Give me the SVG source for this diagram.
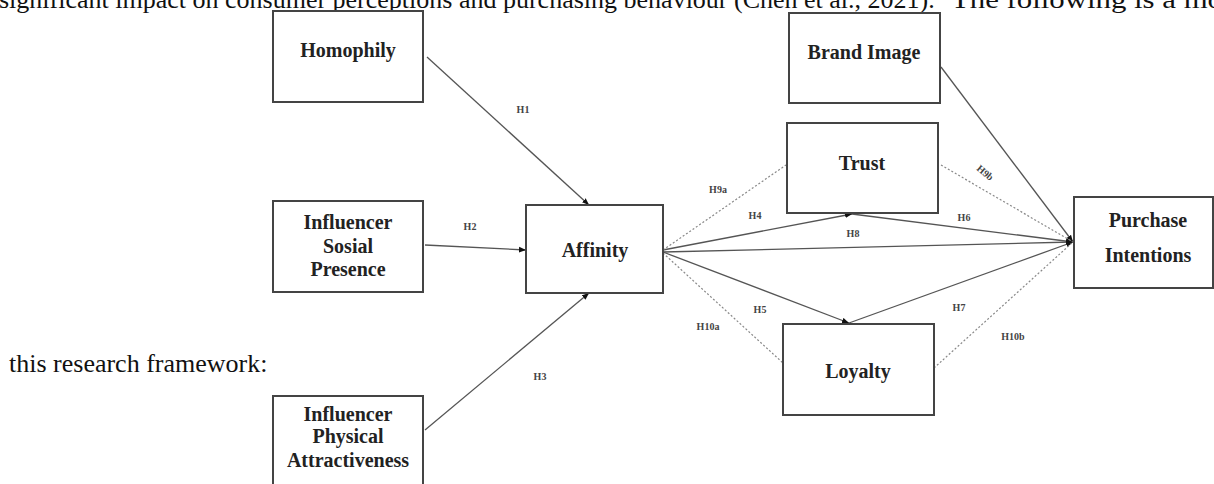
<svg xmlns="http://www.w3.org/2000/svg" width="1214" height="484" viewBox="0 0 1214 484">
<style>
.box{fill:#fff;stroke:#444;stroke-width:2}
.nt{font-family:"Liberation Serif","Times New Roman",serif;font-weight:bold;font-size:20px;fill:#222;text-anchor:middle}
.lb{font-family:"Liberation Serif","Times New Roman",serif;font-weight:bold;font-size:10px;fill:#444;text-anchor:middle}
.body{font-family:"Liberation Serif","Times New Roman",serif;font-size:26px;fill:#111}
.ln{stroke:#555;stroke-width:1.3;fill:none}
.dt{stroke:#888;stroke-width:1.2;stroke-dasharray:2,2;fill:none}
</style>
<defs>
<marker id="ah" viewBox="0 0 10 10" refX="10" refY="5" markerWidth="7" markerHeight="7" orient="auto" markerUnits="userSpaceOnUse">
<path d="M0,1 L10,5 L0,9 z" fill="#111"/>
</marker>
</defs>
<rect width="1214" height="484" fill="#fff"/>
<text class="body" y="8"><tspan x="-1">significant impact on consumer perceptions and purchasing behaviour (Chen et al., 2021).</tspan><tspan x="951" textLength="272" lengthAdjust="spacingAndGlyphs">The following is a mo</tspan></text>
<text class="body" x="9" y="372">this research framework:</text>

<g id="connectors">
<line class="ln" x1="427" y1="57" x2="589" y2="205" marker-end="url(#ah)"/>
<line class="ln" x1="425" y1="245" x2="526" y2="250" marker-end="url(#ah)"/>
<line class="ln" x1="425" y1="430" x2="589" y2="293" marker-end="url(#ah)"/>
<line class="ln" x1="663" y1="250" x2="852" y2="214" marker-end="url(#ah)"/>
<line class="ln" x1="852" y1="214" x2="1073" y2="242" marker-end="url(#ah)"/>
<line class="ln" x1="663" y1="252" x2="1073" y2="242" marker-end="url(#ah)"/>
<line class="ln" x1="663" y1="252" x2="849" y2="323" marker-end="url(#ah)"/>
<line class="ln" x1="849" y1="323" x2="1073" y2="242" marker-end="url(#ah)"/>
<line class="ln" x1="941" y1="67" x2="1073" y2="242" marker-end="url(#ah)"/>
<line class="dt" x1="663" y1="250" x2="786" y2="165"/>
<line class="dt" x1="941" y1="165" x2="1073" y2="242"/>
<line class="dt" x1="663" y1="253" x2="783" y2="363"/>
<line class="dt" x1="934" y1="368" x2="1073" y2="242"/>
<text class="lb" x="523" y="113">H1</text>
<text class="lb" x="470" y="230">H2</text>
<text class="lb" x="540" y="380">H3</text>
<text class="lb" x="718" y="193">H9a</text>
<text class="lb" x="755" y="219">H4</text>
<text class="lb" x="853" y="237">H8</text>
<text class="lb" x="964" y="221">H6</text>
<text class="lb" x="985" y="176" transform="rotate(40 985 173)">H9b</text>
<text class="lb" x="760" y="313">H5</text>
<text class="lb" x="708" y="330">H10a</text>
<text class="lb" x="959" y="311">H7</text>
<text class="lb" x="1013" y="340">H10b</text>
</g>

<g id="homophily">
<rect class="box" x="273" y="11" width="150" height="91"/>
<text class="nt" x="348" y="57">Homophily</text>
</g>
<g id="social-presence">
<rect class="box" x="273" y="201" width="150" height="91"/>
<text class="nt" x="348" y="229">Influencer</text>
<text class="nt" x="348" y="253">Sosial</text>
<text class="nt" x="348" y="276">Presence</text>
</g>
<g id="physical-attractiveness">
<rect class="box" x="273" y="396" width="150" height="100"/>
<text class="nt" x="348" y="421">Influencer</text>
<text class="nt" x="348" y="443">Physical</text>
<text class="nt" x="348" y="467">Attractiveness</text>
</g>
<g id="affinity">
<rect class="box" x="526" y="205" width="137" height="88"/>
<text class="nt" x="595" y="257">Affinity</text>
</g>
<g id="brand-image">
<rect class="box" x="789" y="13" width="151" height="90"/>
<text class="nt" x="864" y="59">Brand Image</text>
</g>
<g id="trust">
<rect class="box" x="787" y="123" width="151" height="90"/>
<text class="nt" x="862" y="170">Trust</text>
</g>
<g id="loyalty">
<rect class="box" x="783" y="324" width="151" height="91"/>
<text class="nt" x="858" y="378">Loyalty</text>
</g>
<g id="purchase-intentions">
<rect class="box" x="1074" y="197" width="139" height="91"/>
<text class="nt" x="1148" y="227">Purchase</text>
<text class="nt" x="1148" y="262">Intentions</text>
</g>
</svg>
